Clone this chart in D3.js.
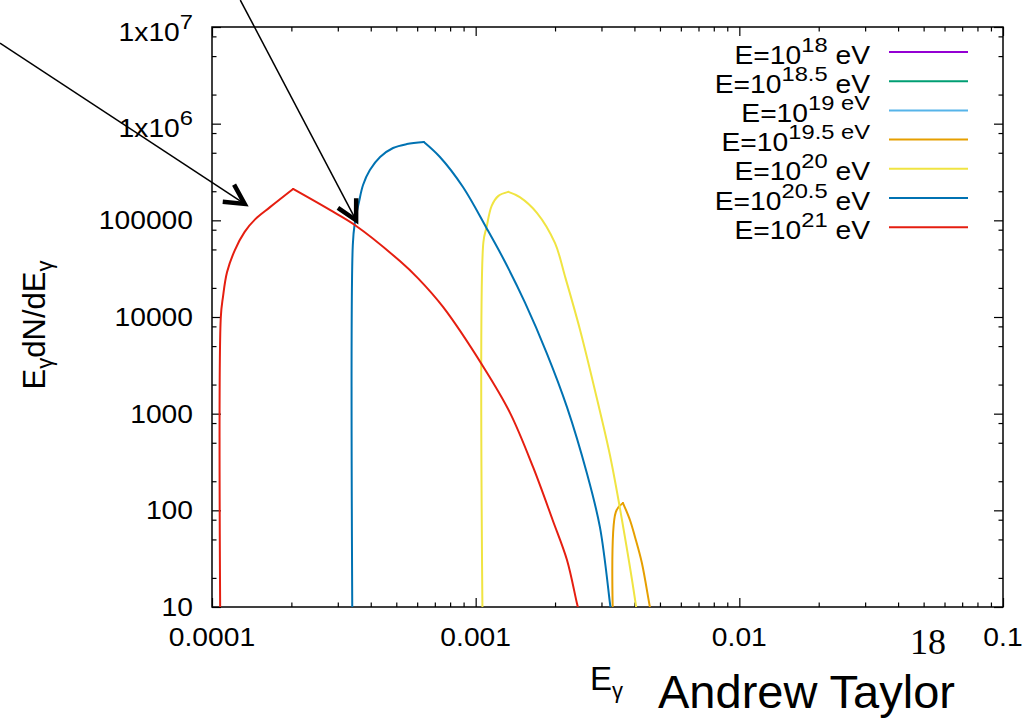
<!DOCTYPE html>
<html>
<head>
<meta charset="utf-8">
<script src="https://cdn.jsdelivr.net/npm/d3@7"></script>
<style>
  html, body { margin: 0; padding: 0; background: #fff; }
  svg { display: block; }
  text { font-family: "Liberation Sans", Arial, Helvetica, sans-serif; fill: #000; }
</style>
</head>
<body>
<svg id="chart" width="1029" height="718"></svg>
<script>
// ---- data -------------------------------------------------------------
// primary energies (log10 eV) shown in the key
const primaryExp   = ["18", "18.5", "19", "19.5", "20", "20.5", "21"];
const keySup       = ["18", "18.5", "19 eV", "19.5 eV", "20", "20.5", "21"];
const keyTail      = [" eV", " eV", "", "", " eV", " eV", " eV"];
const seriesColors = ["#9400d3", "#009e73", "#56b4e9", "#e69f00", "#f0e442", "#0072b2", "#e51e10"];

// photon energy E_gamma and E_gamma dN/dE_gamma per primary energy
const eg_18   = [];
const flux_18 = [];
const eg_185   = [];
const flux_185 = [];
const eg_19   = [];
const flux_19 = [];
const eg_195   = [3.40e-3, 3.40e-3, 3.62e-3, 3.85e-3, 4.02e-3, 4.27e-3, 4.58e-3, 4.62e-3];
const flux_195 = [1, 96, 119, 79, 53, 28.5, 10, 9];
const eg_20   = [1.07e-3, 1.07e-3, 1.10e-3, 1.15e-3, 1.22e-3, 1.33e-3, 1.47e-3, 1.71e-3, 2.00e-3, 2.18e-3, 2.49e-3, 2.88e-3, 3.23e-3, 3.59e-3, 4.06e-3, 4.10e-3];
const flux_20 = [1, 5.97e4, 8.5e4, 1.41e5, 1.79e5, 1.97e5, 1.74e5, 1.19e5, 5.8e4, 2.65e4, 7.3e3, 1.45e3, 373, 79, 10, 8];
const eg_205   = [3.42e-4, 3.42e-4, 3.48e-4, 3.61e-4, 3.74e-4, 3.97e-4, 4.34e-4, 4.86e-4, 5.48e-4, 6.36e-4, 7.32e-4, 8.95e-4, 1.10e-3, 1.29e-3, 1.54e-3, 1.86e-3, 2.22e-3, 2.64e-3, 2.96e-3, 3.23e-3, 3.26e-3];
const flux_205 = [1, 5.56e4, 9.4e4, 1.55e5, 2.32e5, 3.31e5, 4.52e5, 5.60e5, 6.15e5, 6.46e5, 4.52e5, 2.21e5, 8.3e4, 3.75e4, 1.40e4, 4.24e3, 1.17e3, 243, 67, 11, 9];
const eg_21   = [1.08e-4, 1.08e-4, 1.10e-4, 1.14e-4, 1.22e-4, 1.33e-4, 1.46e-4, 1.66e-4, 2.03e-4, 2.80e-4, 3.48e-4, 5.16e-4, 6.05e-4, 7.52e-4, 1.07e-3, 1.35e-3, 1.65e-3, 1.96e-3, 2.22e-3, 2.42e-3, 2.47e-3];
const flux_21 = [1, 1.0e4, 1.6e4, 2.9e4, 4.9e4, 7.6e4, 1.03e5, 1.37e5, 2.11e5, 1.28e5, 8.95e4, 3.79e4, 2.51e4, 1.27e4, 3.04e3, 1.02e3, 281, 79, 30.6, 11, 8.8];

const seriesX = [eg_18, eg_185, eg_19, eg_195, eg_20, eg_205, eg_21];
const seriesY = [flux_18, flux_185, flux_19, flux_195, flux_20, flux_205, flux_21];

// axis ticks
const xMajorTicks  = [1e-4, 1e-3, 1e-2, 1e-1];
const xTickLabels  = ["0.0001", "0.001", "0.01", "0.1"];
const yMajorTicks  = [10, 100, 1000, 1e4, 1e5, 1e6, 1e7];
const yTickMain    = ["10", "100", "1000", "10000", "100000", "1x10", "1x10"];
const yTickSup     = ["", "", "", "", "", "6", "7"];

// annotation arrows: [E, flux] of start and tip
const arrowStarts = [[1.57e-5, 6.8e6], [1.28e-4, 1.9e7]];
const arrowTips   = [[1.33e-4, 1.48e5], [3.52e-4, 1.0e5]];

// ---- layout -----------------------------------------------------------
const plotL = 212, plotR = 1003, plotT = 27, plotB = 607;
const stretch = 1.13;         // horizontal stretch of the tick / key lettering
const svg = d3.select("#chart");

const x = d3.scaleLog().domain([1e-4, 0.1]).range([plotL, plotR]);
const y = d3.scaleLog().domain([10, 1e7]).range([plotB, plotT]);

// minor ticks
const xMinor = [];
[1e-4, 1e-3, 1e-2].forEach(d => { for (let k = 2; k <= 9; k++) xMinor.push(d * k); });
const yMinor = [];
[10, 100, 1000, 1e4, 1e5, 1e6].forEach(d => { [2, 5, 8].forEach(k => yMinor.push(d * k)); });

function tickAxis(gen, values, size, tx, ty) {
  const g = svg.append("g").attr("transform", `translate(${tx},${ty})`)
    .call(gen.tickValues(values).tickSize(size).tickFormat(""));
  g.select(".domain").remove();
  g.selectAll(".tick line").attr("stroke", "#000").attr("stroke-width", 1.2);
  return g;
}
// ticks point inward on all four sides
tickAxis(d3.axisBottom(x), xMajorTicks, -9, 0, plotB);
tickAxis(d3.axisBottom(x), xMinor, -4.5, 0, plotB);
tickAxis(d3.axisTop(x), xMajorTicks, -9, 0, plotT);
tickAxis(d3.axisTop(x), xMinor, -4.5, 0, plotT);
tickAxis(d3.axisLeft(y), yMajorTicks, -9, plotL, 0);
tickAxis(d3.axisLeft(y), yMinor, -4.5, plotL, 0);
tickAxis(d3.axisRight(y), yMajorTicks, -9, plotR, 0);
tickAxis(d3.axisRight(y), yMinor, -4.5, plotR, 0);

// frame
svg.append("rect")
  .attr("x", plotL).attr("y", plotT)
  .attr("width", plotR - plotL).attr("height", plotB - plotT)
  .attr("fill", "none").attr("stroke", "#000").attr("stroke-width", 1.5);

// stretched text helper
function wideText(px, py) {
  return svg.append("text")
    .attr("transform", `translate(${px},${py}) scale(${stretch},1)`)
    .attr("font-size", 25);
}

// x tick labels
xMajorTicks.forEach((v, i) => {
  wideText(x(v), plotB + 39).attr("text-anchor", "middle").text(xTickLabels[i]);
});

// y tick labels
yMajorTicks.forEach((v, i) => {
  if (yTickSup[i]) {
    const t = wideText(193, y(v) + 13.5).attr("text-anchor", "end");
    t.append("tspan").text(yTickMain[i]);
    t.append("tspan").attr("font-size", 21).attr("dy", -12).text(yTickSup[i]);
  } else {
    wideText(193, y(v) + 9).attr("text-anchor", "end").text(yTickMain[i]);
  }
});

// axis titles
const yTitle = svg.append("text")
  .attr("transform", "translate(45,325) rotate(-90)")
  .attr("text-anchor", "middle").attr("font-size", 31);
yTitle.append("tspan").text("E");
yTitle.append("tspan").attr("font-size", 22).attr("dy", 7).text("γ");
yTitle.append("tspan").attr("dy", -7).text("dN/dE");
yTitle.append("tspan").attr("font-size", 22).attr("dy", 7).text("γ");

const xTitle = svg.append("text").attr("x", 590).attr("y", 690).attr("font-size", 33);
xTitle.append("tspan").text("E");
xTitle.append("tspan").attr("font-size", 22).attr("dy", 8).text("γ");

// data curves: smooth rising and falling branches meeting at a sharp peak
svg.append("clipPath").attr("id", "plot-area")
  .append("rect").attr("x", plotL).attr("y", plotT)
  .attr("width", plotR - plotL).attr("height", plotB - plotT);

const line = d3.line()
  .x(d => x(d[0])).y(d => y(d[1]))
  .curve(d3.curveCatmullRom.alpha(0.5));
const curves = svg.append("g").attr("clip-path", "url(#plot-area)");
seriesX.forEach((xs, i) => {
  if (!xs.length) return;
  const ys = seriesY[i];
  const pts = xs.map((v, j) => [v, ys[j]]);
  const peak = d3.maxIndex(ys);
  [pts.slice(0, peak + 1), pts.slice(peak)].forEach(branch => {
    curves.append("path")
      .datum(branch)
      .attr("d", line)
      .attr("fill", "none")
      .attr("stroke", seriesColors[i])
      .attr("stroke-width", 2)
      .attr("stroke-linejoin", "round")
      .attr("stroke-linecap", "round");
  });
});

// key
const keyRight = 870, keyLineX0 = 889, keyLineX1 = 968, keyTop = 52, keyStep = 29.2;
primaryExp.forEach((p, i) => {
  const ky = keyTop + i * keyStep;
  const t = wideText(keyRight, ky + 11.5).attr("text-anchor", "end");
  t.append("tspan").text("E=10");
  t.append("tspan").attr("font-size", 21).attr("dy", -12).text(keySup[i]);
  if (keyTail[i]) t.append("tspan").attr("dy", 12).text(keyTail[i]);
  svg.append("line")
    .attr("x1", keyLineX0).attr("x2", keyLineX1)
    .attr("y1", ky).attr("y2", ky)
    .attr("stroke", seriesColors[i]).attr("stroke-width", 2);
});

// annotation arrows pointing at the spectral peaks
arrowStarts.forEach((s, i) => {
  const x0 = x(s[0]), y0 = y(s[1]);
  const x1 = x(arrowTips[i][0]), y1 = y(arrowTips[i][1]);
  const ang = Math.atan2(y0 - y1, x0 - x1);
  const spread = 28 * Math.PI / 180, len = 22;
  svg.append("line")
    .attr("x1", x0).attr("y1", y0).attr("x2", x1).attr("y2", y1)
    .attr("stroke", "#000").attr("stroke-width", 1.5);
  const b1 = [x1 + len * Math.cos(ang + spread), y1 + len * Math.sin(ang + spread)];
  const b2 = [x1 + len * Math.cos(ang - spread), y1 + len * Math.sin(ang - spread)];
  svg.append("path")
    .attr("d", d3.line()([b1, [x1, y1], b2]))
    .attr("fill", "none").attr("stroke", "#000")
    .attr("stroke-width", 4.5).attr("stroke-linejoin", "miter");
});

// slide footer
svg.append("text").attr("x", 910).attr("y", 654)
  .style("font-family", "'Liberation Serif', 'Times New Roman', serif")
  .attr("font-size", 36).text("18");
svg.append("text").attr("x", 658).attr("y", 708)
  .attr("font-size", 47).text("Andrew Taylor");
</script>
</body>
</html>
